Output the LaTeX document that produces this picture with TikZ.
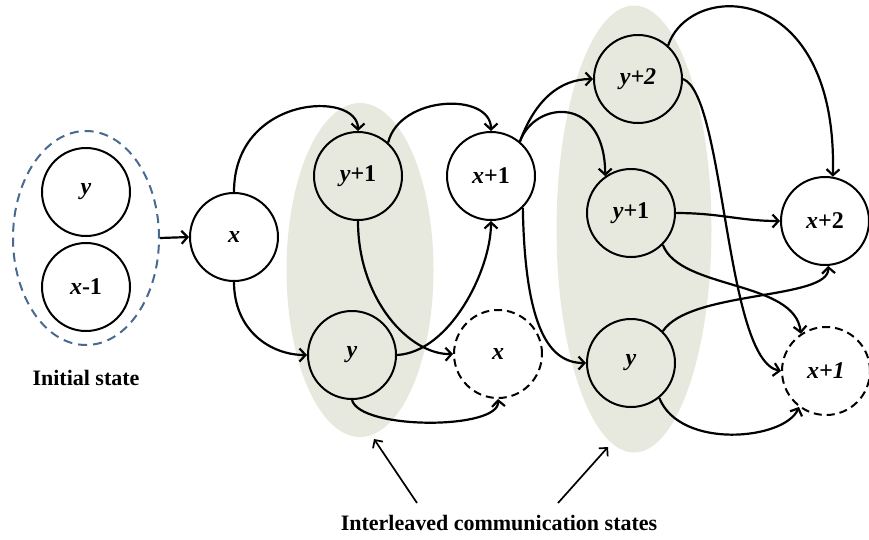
\documentclass[tikz,border=0pt]{standalone}
\usepackage{fontspec}
\setmainfont{Liberation Serif}
\usetikzlibrary{arrows.meta,shapes.geometric}
\definecolor{shade}{RGB}{232,233,222}
\definecolor{dashblue}{RGB}{74,105,145}
\begin{document}
\begin{tikzpicture}[x=1pt,y=-1pt,
 st/.style={circle,draw,line width=2pt,minimum size=88pt,inner sep=0pt,font=\fontsize{24}{27}\selectfont\bfseries},
 wst/.style={st,fill=white},
 dst/.style={st,fill=white,dash pattern=on 8pt off 5pt},
 conn/.style={line width=2.2pt,-{Straight Barb[length=6pt,width=13pt]}},
 thinconn/.style={line width=1.7pt,-{Straight Barb[length=6pt,width=12pt]}},
 region/.style={ellipse,fill=shade,inner sep=0pt},
 lab/.style={font=\fontsize{22}{26}\selectfont\bfseries}]
\useasboundingbox (0,0) rectangle (869,539);
% shaded regions
\node[region,minimum width=147pt,minimum height=334pt] (sh1) at (360,270) {};
\node[region,minimum width=155pt,minimum height=447pt] (sh2) at (634,229) {};
% initial state
\node[ellipse,draw=dashblue,line width=2pt,dash pattern=on 9pt off 6pt,minimum width=146pt,minimum height=214pt,inner sep=0pt] (ini) at (86,238) {};
\node[wst] (iy) at (86,192) {\textit{y}};
\node[wst] (ixm) at (86,287) {\textit{x}-1};
% states
\node[wst] (nx) at (234,237) {\textit{x}};
\node[st] (ny1a) at (358,176) {\textit{y}+1};
\node[st] (nya) at (352,355) {\textit{y}};
\node[wst] (nx1) at (491,176) {\textit{x}+1};
\node[dst] (nxd) at (498,354) {\textit{x}};
\node[st] (ny2) at (638,79) {\textit{y+2}};
\node[st] (ny1b) at (631,213) {\textit{y}+1};
\node[st] (nyb) at (631,363) {\textit{y}};
\node[wst] (nx2) at (825,221) {\textit{x}+2};
\node[dst] (nx1d) at (826,371) {\textit{x+1}};
% labels
\node[lab] (linit) at (86,378) {Initial state};
\node[lab] (lint) at (499,523) {Interleaved communication states};
\coordinate (t1) at (417,503); \coordinate (h1) at (374,439);
\coordinate (t2) at (558,503); \coordinate (h2) at (608,447);
% connectors
\draw[conn] (ini.east) -- (nx.west);
\draw[conn] (nx.north) .. controls (234,95) and (358,90) .. (ny1a.north);
\draw[conn] (nx.south) .. controls (234,330) and (270,355) .. (nya.west);
\draw[conn] (ny1a.48) .. controls (400,95) and (491,92) .. (nx1.north);
\draw[conn] (ny1a.south) .. controls (358,300) and (410,355) .. (nxd.west);
\draw[conn] (nya.east) .. controls (450,352) and (491,270) .. (nx1.south);
\draw[conn] (nya.south) .. controls (360,430) and (500,430) .. (nxd.south);
\draw[conn] (nx1.50) .. controls (535,100) and (560,79) .. (ny2.west);
\draw[conn] (nx1.50) .. controls (535,100) and (605,95) .. (ny1b.125);
\draw[conn] (nx1.-45) .. controls (525,330) and (550,363) .. (nyb.west);
\draw[conn] (ny2.48) .. controls (690,-20) and (838,-20) .. (nx2.80);
\draw[conn] (ny2.east) .. controls (725,95) and (725,360) .. (nx1d.west);
\draw[conn] (ny1b.east) .. controls (720,213) and (740,221) .. (nx2.west);
\draw[conn] (ny1b.-45) .. controls (680,290) and (795,280) .. (nx1d.124);
\draw[conn] (nyb.45) .. controls (690,290) and (830,300) .. (nx2.-86);
\draw[conn] (nyb.-51) .. controls (680,450) and (785,440) .. (nx1d.-127);
\draw[thinconn] (t1) -- (h1);
\draw[thinconn] (t2) -- (h2);
\end{tikzpicture}
\end{document}
